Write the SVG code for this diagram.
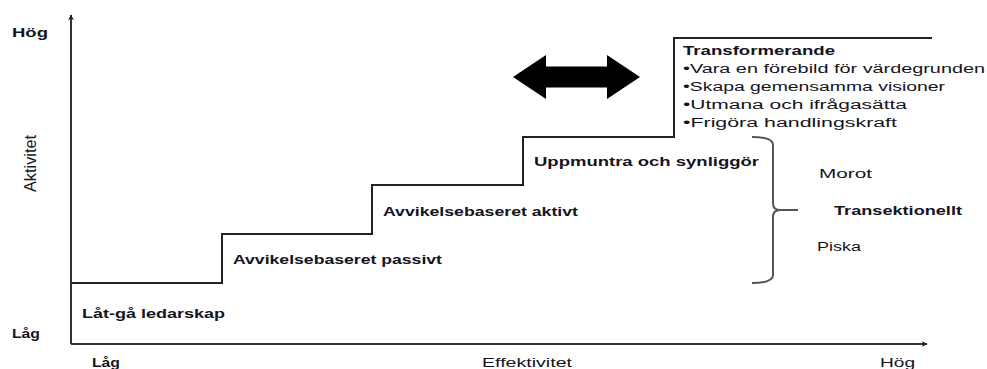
<svg xmlns="http://www.w3.org/2000/svg" width="987" height="369" viewBox="0 0 987 369">
<style>
.t{font-family:"Liberation Sans",Arial,sans-serif;font-size:12.5px;fill:#141420}
.b{font-weight:bold}
.ax{fill:none;stroke:#333;stroke-width:2}
.st{fill:none;stroke:#222;stroke-width:2}
.br{fill:none;stroke:#555;stroke-width:2}
</style>
<defs>
<marker id="ah" viewBox="0 0 10 10" refX="9" refY="5" markerWidth="6" markerHeight="6" markerUnits="userSpaceOnUse" orient="auto">
<path d="M0,0 L10,5 L0,10 L3,5 Z" fill="#222"/>
</marker>
</defs>
<g id="connectors">
<path id="y-axis" class="ax" d="M71,344 V15" marker-end="url(#ah)"/>
<path id="x-axis" class="ax" d="M71,344 H927" marker-end="url(#ah)"/>
<path id="staircase" class="st" d="M71,283 H222 V234 H372 V185 H523 V137 H674 V38 H932"/>
<path id="brace" class="br" d="M752,137 Q773,137 773,145 V203 Q773,210 780,210 H798 M780,210 Q773,210 773,217 V275 Q773,283 752,283"/>
<path id="double-arrow" d="M513,77 L546,55 L546,66.5 L607,66.5 L607,55 L640,77 L607,99 L607,87.5 L546,87.5 L546,99 Z" fill="#000"/>
</g>
<g id="axis-labels">
<text class="t b" x="12" y="37" textLength="36" lengthAdjust="spacingAndGlyphs">Hög</text>
<text class="t b" x="12" y="338" textLength="28" lengthAdjust="spacingAndGlyphs">Låg</text>
<text class="t" x="36" y="192" transform="rotate(-90 36 192)" style="font-size:16px" textLength="57" lengthAdjust="spacingAndGlyphs">Aktivitet</text>
<text class="t b" x="92" y="367" textLength="28" lengthAdjust="spacingAndGlyphs">Låg</text>
<text class="t" x="482" y="367" textLength="90" lengthAdjust="spacingAndGlyphs">Effektivitet</text>
<text class="t" x="880" y="367" textLength="35" lengthAdjust="spacingAndGlyphs">Hög</text>
</g>
<g id="node-latga"><text class="t b" x="82" y="318" textLength="143" lengthAdjust="spacingAndGlyphs">Låt-gå ledarskap</text></g>
<g id="node-passivt"><text class="t b" x="233" y="264" textLength="209" lengthAdjust="spacingAndGlyphs">Avvikelsebaseret  passivt</text></g>
<g id="node-aktivt"><text class="t b" x="383" y="216" textLength="195" lengthAdjust="spacingAndGlyphs">Avvikelsebaseret  aktivt</text></g>
<g id="node-uppmuntra"><text class="t b" x="534" y="166" textLength="225" lengthAdjust="spacingAndGlyphs">Uppmuntra  och synliggör</text></g>
<g id="node-transformerande">
<text class="t b" x="683" y="55" textLength="152" lengthAdjust="spacingAndGlyphs">Transformerande</text>
<text class="t" x="683" y="73" textLength="302" lengthAdjust="spacingAndGlyphs">•Vara  en  förebild för värdegrunden</text>
<text class="t" x="683" y="91" textLength="262" lengthAdjust="spacingAndGlyphs">•Skapa gemensamma   visioner</text>
<text class="t" x="683" y="109" textLength="224" lengthAdjust="spacingAndGlyphs">•Utmana  och ifrågasätta</text>
<text class="t" x="683" y="127" textLength="214" lengthAdjust="spacingAndGlyphs">•Frigöra  handlingskraft</text>
</g>
<g id="node-transaktionellt">
<text class="t" x="819" y="178" textLength="53" lengthAdjust="spacingAndGlyphs">Morot</text>
<text class="t b" x="834" y="215" textLength="128" lengthAdjust="spacingAndGlyphs">Transektionellt</text>
<text class="t" x="817" y="251" textLength="44" lengthAdjust="spacingAndGlyphs">Piska</text>
</g>
</svg>
